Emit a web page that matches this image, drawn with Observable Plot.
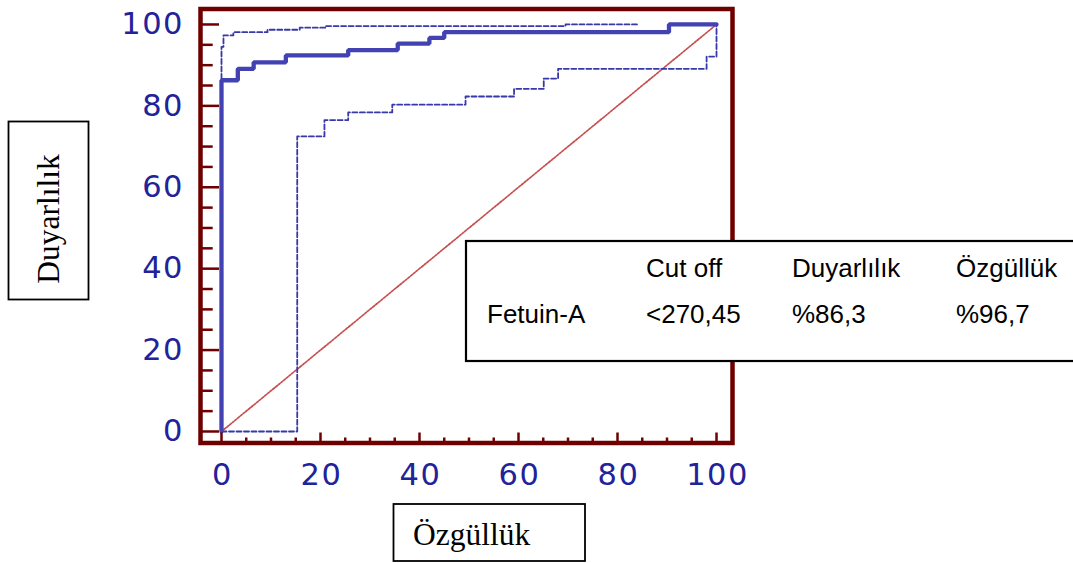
<!DOCTYPE html>
<html>
<head>
<meta charset="utf-8">
<script src="https://cdn.jsdelivr.net/npm/d3@7"></script>
<script src="https://cdn.jsdelivr.net/npm/@observablehq/plot@0.6"></script>
<style>
  html, body { margin: 0; padding: 0; background: #fff; }
  #wrap { position: relative; width: 1073px; height: 563px; overflow: hidden; background: #fff; }
  #wrap svg { position: absolute; left: 0; top: 0; }
  .roc g[aria-label$="tick label"] text { letter-spacing: 1.5px; }
</style>
</head>
<body>
<div id="wrap"></div>
<script>
// ROC curve (1 - specificity %, sensitivity %)
const rocFpr = [0, 0, 3.3, 6.5, 13, 25.6, 35.6, 42, 45, 90.4, 100];
const rocTpr = [0, 86.3, 89.1, 90.7, 92.4, 93.7, 95.3, 96.7, 98.1, 100, 100];
// upper confidence bound
const upFpr = [0, 0, 0.4, 2.4, 9.3, 15.8, 21, 69.5, 84.3];
const upTpr = [0, 94.5, 97.3, 98.1, 98.7, 99.2, 99.6, 100, 100];
// lower confidence bound
const loFpr = [0, 15.3, 20.8, 25.6, 34.5, 49.3, 59.1, 65.1, 68, 98, 100];
const loTpr = [0, 72.5, 76.5, 78.4, 80.3, 82.3, 84.2, 86.7, 89.1, 92.1, 100];
// reference diagonal
const diagX = [0, 100];
const diagY = [0, 100];
// ticks
const majorTicks = [0, 20, 40, 60, 80, 100];
const minorTicks = [5, 10, 15, 25, 30, 35, 45, 50, 55, 65, 70, 75, 85, 90, 95];
// texts
const xTitle = "Özgüllük";
const yTitle = "Duyarlılık";
const tableHeader = ["", "Cut off", "Duyarlılık", "Özgüllük"];
const tableRow = ["Fetuin-A", "<270,45", "%86,3", "%96,7"];

const toPts = (xs, ys) => xs.map((x, i) => ({x, y: ys[i]}));
const roc = toPts(rocFpr, rocTpr);
const upper = toPts(upFpr, upTpr);
const lower = toPts(loFpr, loTpr);
const diag = toPts(diagX, diagY);

const maroon = "#6e0000";
const navy = "#22229a";
const rocColor = "#4242b2";
const ciColor = "#3838aa";

const tickCommon = {stroke: maroon, strokeWidth: 2.5, fill: "none", label: null};
const textCommon = {tickSize: 0, fill: navy, fontSize: 30.5, fontFamily: "DejaVu Sans", label: null};

const chart = Plot.plot({
  width: 1073,
  height: 563,
  marginLeft: 200,
  marginRight: 341,
  marginTop: 8.5,
  marginBottom: 120.5,
  className: "roc",
  x: {domain: [-4.24, 103.23]},
  y: {domain: [-2.83, 103.8]},
  style: {background: "transparent", color: navy, overflow: "visible"},
  marks: [
    Plot.line(diag, {x: "x", y: "y", stroke: "#c65050", strokeWidth: 1.7, strokeDasharray: "2,1.5"}),
    Plot.line(lower, {x: "x", y: "y", curve: "step-after", stroke: ciColor, strokeWidth: 1.8, strokeDasharray: "5,2.5"}),
    Plot.line(upper, {x: "x", y: "y", curve: "step-after", stroke: ciColor, strokeWidth: 1.8, strokeDasharray: "5,2.5"}),
    Plot.line(roc, {x: "x", y: "y", curve: "step-after", stroke: rocColor, strokeWidth: 4.3, strokeLinejoin: "miter"}),
    Plot.frame({stroke: maroon, strokeWidth: 4.5}),
    Plot.axisY(minorTicks, {anchor: "left", tickSize: -12.7, ...tickCommon}),
    Plot.axisY(majorTicks, {anchor: "left", tickSize: -19, ...tickCommon}),
    Plot.axisY(majorTicks, {anchor: "left", tickPadding: 16.5, ...textCommon}),
    Plot.axisX(minorTicks, {anchor: "bottom", tickSize: -5, ...tickCommon}),
    Plot.axisX(majorTicks, {anchor: "bottom", tickSize: -10, ...tickCommon}),
    Plot.axisX(majorTicks, {anchor: "bottom", tickPadding: 20, dx: 1, ...textCommon})
  ]
});

const wrap = document.getElementById("wrap");
wrap.appendChild(chart);

// overlay: axis title boxes and the table box
const ov = d3.select(wrap).append("svg")
  .attr("width", 1073).attr("height", 563)
  .style("pointer-events", "none");

// y title box
ov.append("rect").attr("x", 8.5).attr("y", 121.5).attr("width", 80).attr("height", 178)
  .attr("fill", "#fff").attr("stroke", "#000").attr("stroke-width", 1.8);
ov.append("text").attr("transform", "translate(59,219) rotate(-90)")
  .attr("text-anchor", "middle").attr("font-family", "Liberation Serif").attr("font-size", 31.5)
  .attr("fill", "#000").text(yTitle);

// x title box
ov.append("rect").attr("x", 393.5).attr("y", 504).attr("width", 191.5).attr("height", 57)
  .attr("fill", "#fff").attr("stroke", "#000").attr("stroke-width", 1.8);
ov.append("text").attr("x", 413).attr("y", 544.5)
  .attr("font-family", "Liberation Serif").attr("font-size", 31.5)
  .attr("fill", "#000").text(xTitle);

// table box
ov.append("rect").attr("x", 466).attr("y", 241).attr("width", 620).attr("height", 120)
  .attr("fill", "#fff").attr("stroke", "#000").attr("stroke-width", 2.2);
const colX = [487, 646, 792, 956];
const rowY = [276.7, 323.3];
[tableHeader, tableRow].forEach((row, r) => {
  row.forEach((t, c) => {
    if (!t) return;
    ov.append("text").attr("x", colX[c]).attr("y", rowY[r])
      .attr("font-family", "Liberation Sans").attr("font-size", 26)
      .attr("fill", "#000").text(t);
  });
});
</script>
</body>
</html>
